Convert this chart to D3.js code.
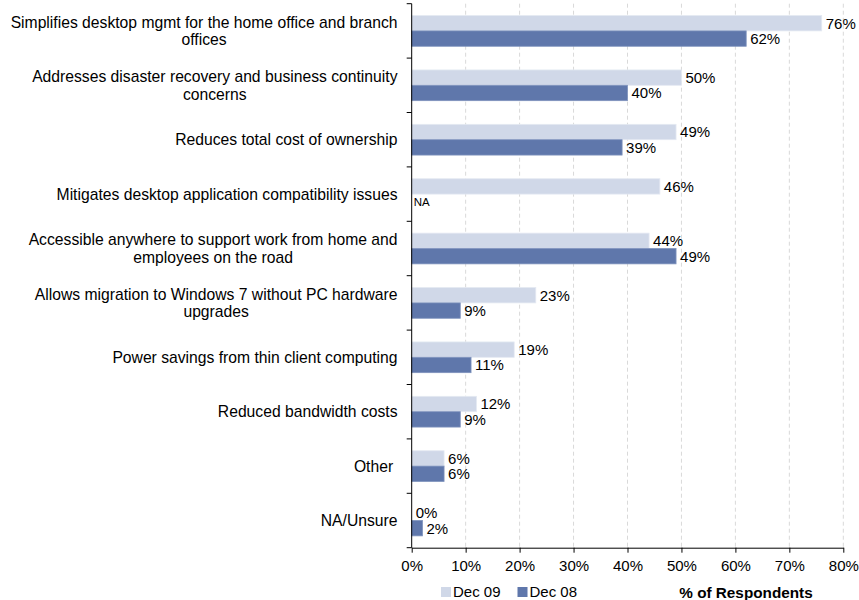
<!DOCTYPE html>
<html>
<head>
<meta charset="utf-8">
<script src="https://cdn.jsdelivr.net/npm/d3@7"></script>
<style>
  html, body { margin: 0; padding: 0; background: #fff; }
  svg { display: block; font-family: "Liberation Sans", Arial, sans-serif; }
</style>
</head>
<body>
<svg id="chart" width="859" height="600"></svg>
<script>
// Reasons for adopting desktop virtualization, by survey wave
const categories = [
  "Simplifies desktop mgmt for the home office and branch\noffices",
  "Addresses disaster recovery and business continuity\nconcerns",
  "Reduces total cost of ownership",
  "Mitigates desktop application compatibility issues",
  "Accessible anywhere to support work from home and\nemployees on the road",
  "Allows migration to Windows 7 without PC hardware\nupgrades",
  "Power savings from thin client computing",
  "Reduced bandwidth costs",
  "Other ",
  "NA/Unsure"
];
const seriesNames = ["Dec 09", "Dec 08"];
const dec09 = [76, 50, 49, 46, 44, 23, 19, 12, 6, 0];
const dec08 = [62, 40, 39, null, 49, 9, 11, 9, 6, 2];   // null = not asked that year
const xTicks = [0, 10, 20, 30, 40, 50, 60, 70, 80];
const xTitle = "% of Respondents";
const missingLabel = "NA";

const colors = { "Dec 09": "#d0d8e8", "Dec 08": "#5f77ab" };
const strokes = { "Dec 09": "#e4e9f2", "Dec 08": "#7f93bd" };

const svg = d3.select("#chart");
const margin = { left: 411.7, right: 15.7, top: 3.7, bottom: 52.3 };
const W = 859, H = 600;

const x = d3.scaleLinear().domain([0, 80]).range([margin.left, W - margin.right]);
const y0 = d3.scaleBand().domain(d3.range(categories.length))
  .range([margin.top, H - margin.bottom]).padding(0);
const y1 = d3.scaleBand().domain(seriesNames)
  .range([0, y0.bandwidth()]).paddingInner(0).paddingOuter(0.77);

const rows = categories.map((c, i) => ({
  i, label: c,
  values: [
    { s: "Dec 09", v: dec09[i] },
    { s: "Dec 08", v: dec08[i] }
  ]
}));

// dashed vertical gridlines
svg.append("g")
  .selectAll("line")
  .data(xTicks.filter(t => t > 0))
  .join("line")
  .attr("x1", d => x(d)).attr("x2", d => x(d))
  .attr("y1", margin.top).attr("y2", H - margin.bottom)
  .attr("stroke", "#d9d9d9")
  .attr("stroke-width", 1)
  .attr("stroke-dasharray", "4,3");

// bars
const groups = svg.append("g").selectAll("g")
  .data(rows).join("g")
  .attr("transform", d => `translate(0,${y0(d.i)})`);

groups.selectAll("rect")
  .data(d => d.values.filter(v => v.v !== null && v.v > 0))
  .join("rect")
  .attr("x", x(0))
  .attr("y", d => y1(d.s))
  .attr("width", d => x(d.v) - x(0))
  .attr("height", y1.bandwidth())
  .attr("fill", d => colors[d.s])
  .attr("stroke", d => strokes[d.s])
  .attr("stroke-width", 0.8);

// value labels
groups.selectAll("text.val")
  .data(d => d.values)
  .join("text")
  .attr("class", "val")
  .attr("x", d => d.v === null ? x(0) + 2 : x(d.v) + 4)
  .attr("y", d => y1(d.s) + y1.bandwidth() / 2)
  .attr("dy", "0.36em")
  .attr("font-size", d => d.v === null ? 11.5 : 15)
  .attr("fill", "#000")
  .text(d => d.v === null ? missingLabel : d.v + "%");

// category labels: block right-aligned to the axis, lines centered within the block
const lineH = 17.6;
const catG = svg.append("g");
rows.forEach(r => {
  const lines = r.label.split("\n");
  const t = catG.append("text")
    .attr("font-size", 15.7)
    .attr("text-anchor", "middle")
    .style("white-space", "pre")
    .attr("fill", "#000");
  const cy = y0(r.i) + y0.bandwidth() / 2;
  const spans = lines.map((ln, k) => t.append("tspan")
    .attr("y", cy + 5.6 + (k - (lines.length - 1) / 2) * lineH)
    .text(ln));
  const widths = spans.map(s => s.node().getComputedTextLength());
  const maxW = d3.max(widths);
  const cx = 397.5 - maxW / 2;
  spans.forEach(s => s.attr("x", cx));
});

// y axis with ticks at category boundaries
const yAxisG = svg.append("g");
yAxisG.append("line")
  .attr("x1", x(0)).attr("x2", x(0))
  .attr("y1", margin.top).attr("y2", H - margin.bottom)
  .attr("stroke", "#000");
yAxisG.selectAll("line.tk")
  .data(d3.range(categories.length + 1))
  .join("line").attr("class", "tk")
  .attr("x1", x(0) - 5).attr("x2", x(0))
  .attr("y1", d => margin.top + d * y0.step())
  .attr("y2", d => margin.top + d * y0.step())
  .attr("stroke", "#000");

// x axis
const xAxis = d3.axisBottom(x)
  .tickValues(xTicks)
  .tickFormat(d => d + "%")
  .tickSize(5)
  .tickSizeOuter(0)
  .tickPadding(8);
const xg = svg.append("g")
  .attr("transform", `translate(0,${H - margin.bottom})`)
  .call(xAxis);
xg.select(".domain").attr("stroke", "#000");
xg.selectAll(".tick line").attr("stroke", "#000");
xg.selectAll(".tick text")
  .attr("font-size", 15)
  .attr("font-family", "'Liberation Sans', Arial, sans-serif")
  .attr("fill", "#000");

// legend
const legend = svg.append("g");
const legendItems = [
  { s: "Dec 09", x: 441 },
  { s: "Dec 08", x: 517.5 }
];
legendItems.forEach(it => {
  legend.append("rect")
    .attr("x", it.x).attr("y", 587)
    .attr("width", 10).attr("height", 10)
    .attr("fill", colors[it.s]);
  legend.append("text")
    .attr("x", it.x + 12).attr("y", 597)
    .attr("font-size", 15)
    .attr("fill", "#000")
    .text(it.s);
});

// axis title
svg.append("text")
  .attr("x", 746).attr("y", 597.5)
  .attr("text-anchor", "middle")
  .attr("font-size", 15.3)
  .attr("font-weight", "bold")
  .attr("fill", "#000")
  .text(xTitle);
</script>
</body>
</html>
